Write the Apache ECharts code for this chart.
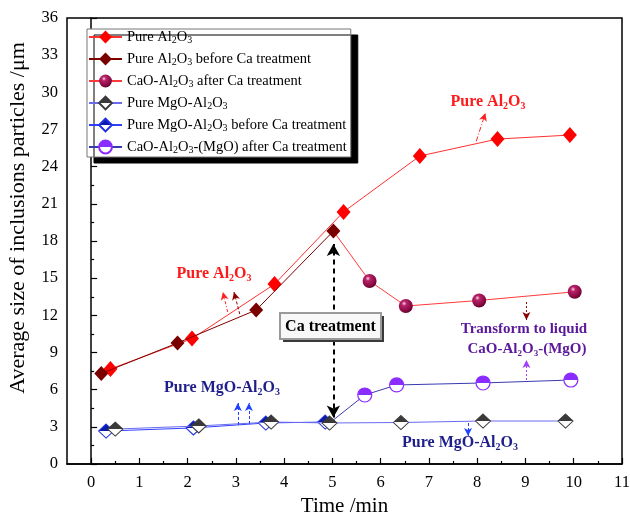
<!DOCTYPE html>
<html><head><meta charset="utf-8">
<style>html,body{margin:0;padding:0;background:#fff}#c{width:630px;height:518px}</style>
<script src="https://cdn.jsdelivr.net/npm/echarts@6.0.0/dist/echarts.min.js"></script>
</head><body><div id="c"></div>
<script>
// ---- tick labels ----
const xTicks = [0,1,2,3,4,5,6,7,8,9,10,11];
const xMinorTicks = [0.5,1.5,2.5,3.5,4.5,5.5,6.5,7.5,8.5,9.5,10.5];
const yTicks = [0,3,6,9,12,15,18,21,24,27,30,33,36];

// ---- series names ----
const names = [
  'Pure Al2O3',
  'Pure Al2O3 before Ca treatment',
  'CaO-Al2O3 after Ca treatment',
  'Pure MgO-Al2O3',
  'Pure MgO-Al2O3 before Ca treatment',
  'CaO-Al2O3-(MgO) after Ca treatment'
];

// ---- series values (time /min, size /um) ----
const pureAlX = [0.40, 2.09, 3.80, 5.23, 6.81, 8.42, 9.92];
const pureAlY = [7.67, 10.12, 14.52, 20.35, 24.86, 26.23, 26.55];

const beforeCaAlX = [0.21, 1.79, 3.42, 5.02];
const beforeCaAlY = [7.30, 9.77, 12.43, 18.80];

const caoAlX = [5.02, 5.77, 6.52, 8.04, 10.02];
const caoAlY = [18.80, 14.77, 12.75, 13.20, 13.90];

const pureMgX = [0.50, 2.23, 3.73, 4.94, 6.42, 8.12, 9.83];
const pureMgY = [2.82, 3.07, 3.39, 3.31, 3.35, 3.47, 3.47];

const beforeCaMgX = [0.31, 2.12, 3.62, 4.85];
const beforeCaMgY = [2.66, 2.91, 3.31, 3.39];

const caoMgX = [4.94, 5.67, 6.33, 8.12, 9.94];
const caoMgY = [3.31, 5.57, 6.38, 6.54, 6.78];

// ---- annotation arrows (data coords) ----
const arrowFrom = [[7.98,26.05],[2.83,12.27],[3.08,12.10],[3.04,3.15],[3.27,3.23],[9.02,13.07],[9.02,6.78],[7.81,3.31]];
const arrowTo   = [[8.17,28.33],[2.73,13.88],[2.96,13.88],[3.04,4.92],[3.27,4.92],[9.02,11.62],[9.02,8.39],[7.81,2.26]];
const arrowColor = ['#ff2020','#ff2020','#8b0000','#2040ff','#2040ff','#8b0000','#a040ff','#2040ff'];
const arrowDash  = [[5,2,1,2],[3,2,1,2],[3,2],[3,2],[3,2],[2,2],[2,2],[3,2]];
const caArrowFrom = [5.02, 3.75];
const caArrowTo = [5.02, 17.75];

const SERIF = "'Liberation Serif','Times New Roman',serif";
function pts(xs, ys, hideFirst){
  return xs.map((x,i)=> (hideFirst && i===0) ? {value:[x,ys[i]], symbol:'none'} : [x, ys[i]]);
}
function chem(s){ return s.replace(/Al2O3/g,'Al{s|2}O{s|3}'); }
const G = echarts.graphic;
function half(top, bottom){
  return new G.LinearGradient(0,0,0,1,[
    {offset:0,color:top},{offset:0.5,color:top},{offset:0.5,color:bottom},{offset:1,color:bottom}]);
}

const chart = echarts.init(document.getElementById('c'), null, {renderer:'canvas'});

const markData = arrowFrom.map((f,i)=>[
  {coord:f, symbol:'none', lineStyle:{color:arrowColor[i], type:arrowDash[i], width:1}},
  {coord:arrowTo[i], symbol:'arrow', symbolSize:[6,8]}
]);
markData.push([
  {coord:caArrowFrom, symbol:'arrow', symbolSize:[10,12], lineStyle:{color:'#000', type:[5,4], width:2}},
  {coord:caArrowTo, symbol:'arrow', symbolSize:[10,12]}
]);

function annText(txt, x, y, size, color){
  return {
    type:'text', x:x, y:y, z:100,
    style:{
      text: chem(txt), align:'center', verticalAlign:'middle',
      font:'bold '+size+'px '+SERIF, fill:color, lineHeight:size+3,
      rich:{ s:{ font:'bold '+Math.round(size*0.62)+'px '+SERIF, fontSize:Math.round(size*0.62), fontWeight:'bold', fontFamily:SERIF, fill:color, verticalAlign:'bottom', lineHeight:Math.round(size*0.62) } }
    }
  };
}

const option = {
  animation:false,
  backgroundColor:'#fff',
  grid:{left:67, right:8, top:18, bottom:54, outerBoundsMode:'none', containLabel:false, show:true, borderColor:'#000', borderWidth:1.5, backgroundColor:'transparent'},
  xAxis:[{
    type:'value', min:-0.5, max:11,
    name:'Time /min', nameLocation:'middle', nameGap:32,
    nameTextStyle:{fontFamily:SERIF, fontSize:21, color:'#000'},
    axisLine:{show:true, onZero:false, lineStyle:{color:'#000', width:1.5}},
    axisTick:{show:true, inside:true, length:6, lineStyle:{color:'#000', width:1.2}, customValues:xTicks},
    axisLabel:{show:true, customValues:xTicks, margin:10, fontFamily:SERIF, fontSize:16.5, color:'#000'},
    splitLine:{show:false}
  },{
    type:'value', min:-0.5, max:11, position:'bottom',
    axisLine:{show:false},
    axisTick:{show:true, inside:true, length:3, lineStyle:{color:'#000', width:1.2}, customValues:xMinorTicks},
    axisLabel:{show:false},
    splitLine:{show:false}
  }],
  yAxis:{
    type:'value', min:0, max:36, interval:3,
    name:'Average size of inclusions particles /μm', nameLocation:'middle', nameGap:38,
    nameTextStyle:{fontFamily:SERIF, fontSize:22, color:'#000', padding:[0,0,0,46]},
    axisLine:{show:true, lineStyle:{color:'#000', width:1.5}},
    axisTick:{show:true, inside:true, length:6, lineStyle:{color:'#000', width:1.2}},
    minorTick:{show:true, splitNumber:2, length:3, lineStyle:{color:'#000', width:1.2}},
    axisLabel:{margin:9, fontFamily:SERIF, fontSize:16.5, color:'#000'},
    splitLine:{show:false}
  },
  legend:{
    data:names, orient:'vertical', left:87, top:29,
    padding:[0,4,2,1], itemWidth:33, itemHeight:16, itemGap:6,
    backgroundColor:'#fff', borderColor:'#777', borderWidth:1,
    shadowColor:'#000', shadowBlur:0, shadowOffsetX:7, shadowOffsetY:6,
    formatter: n => chem(n),
    textStyle:{fontFamily:SERIF, fontSize:14.5, color:'#000', lineHeight:16,
      rich:{ s:{fontFamily:SERIF, fontSize:10, color:'#000', verticalAlign:'bottom', lineHeight:10} } },
    selectedMode:false
  },
  graphic:{elements:[
    annText('Pure Al2O3', 488, 102, 16, '#ff1a1a'),
    annText('Pure Al2O3', 214, 274, 16, '#ff1a1a'),
    annText('Pure MgO-Al2O3', 222, 388, 16, '#1f1f8c'),
    annText('Pure MgO-Al2O3', 460, 443, 16, '#1f1f8c'),
    annText('Transform to liquid', 524, 329, 15, '#5a189a'),
    annText('CaO-Al2O3-(MgO)', 527, 349, 15, '#5a189a'),
    {type:'rect', z:99, shape:{x:283, y:316, width:101, height:26}, style:{fill:'#3a3a3a'}},
    {type:'rect', z:99, shape:{x:280, y:313, width:101, height:26}, style:{fill:'#f8f8f8', stroke:'#9a9a9a', lineWidth:2}},
    annText('Ca treatment', 330.5, 326.5, 16, '#000')
  ]},
  series:[
    {name:names[0], type:'line', z:4, data:pts(pureAlX,pureAlY), symbol:'diamond', symbolSize:[14,16],
     itemStyle:{color:'#ff0000'}, lineStyle:{color:'#ff3030', width:1}},
    {name:names[1], type:'line', z:5, data:pts(beforeCaAlX,beforeCaAlY), symbol:'diamond', symbolSize:[14,15],
     itemStyle:{color:'#7a0000'}, lineStyle:{color:'#800000', width:1}},
    {name:names[2], type:'line', z:3, data:pts(caoAlX,caoAlY,true), symbol:'circle', symbolSize:14,
     itemStyle:{color:new G.RadialGradient(0.38,0.32,0.75,[{offset:0,color:'#ffd8e6'},{offset:0.22,color:'#b8236a'},{offset:0.7,color:'#8a0a44'},{offset:1,color:'#520024'}])},
     lineStyle:{color:'#ff3a3a', width:1}},
    {name:names[3], type:'line', z:4, data:pts(pureMgX,pureMgY), symbol:'diamond', symbolSize:[15,14],
     itemStyle:{color:half('#3a3a3a','#ffffff'), borderColor:'#3a3a3a', borderWidth:1}, lineStyle:{color:'#6a6af0', width:1}},
    {name:names[4], type:'line', z:3, data:pts(beforeCaMgX,beforeCaMgY), symbol:'diamond', symbolSize:[15,14],
     itemStyle:{color:half('#0a1aaa','#ffffff'), borderColor:'#2030e0', borderWidth:1}, lineStyle:{color:'#3040ff', width:1}},
    {name:names[5], type:'line', z:3, data:pts(caoMgX,caoMgY,true), symbol:'circle', symbolSize:14,
     itemStyle:{color:half('#8a2cff','#ffffff'), borderColor:'#8a2cff', borderWidth:1.2}, lineStyle:{color:'#3a3ab0', width:1}},
    {name:'annotations', type:'line', data:[], silent:true, z:2,
     markLine:{silent:true, symbol:['none','arrow'], label:{show:false}, emphasis:{disabled:true}, data:markData}}
  ]
};
chart.setOption(option);
</script></body></html>
